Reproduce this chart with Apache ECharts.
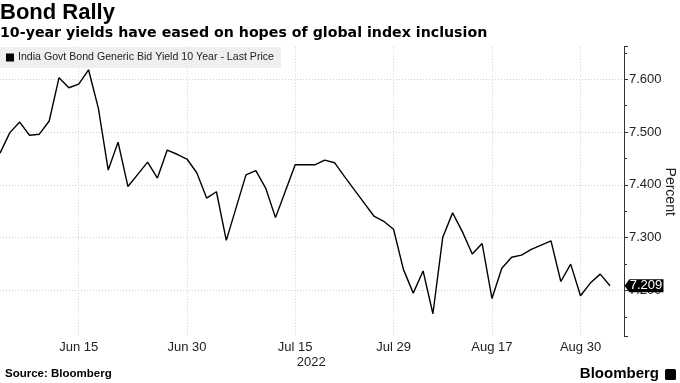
<!DOCTYPE html>
<html>
<head>
<meta charset="utf-8">
<script src="https://cdn.jsdelivr.net/npm/echarts@6/dist/echarts.min.js"></script>
<style>
html,body{margin:0;padding:0;background:#fff;}
#chart{width:680px;height:383px;}
</style>
</head>
<body>
<div id="chart"></div>
<script>
// Trading dates (Indian market holidays skipped)
const dates = [
  'Jun 3','Jun 6','Jun 7','Jun 8','Jun 9','Jun 10','Jun 13','Jun 14','Jun 15','Jun 16',
  'Jun 17','Jun 20','Jun 21','Jun 22','Jun 23','Jun 24','Jun 27','Jun 28','Jun 29','Jun 30',
  'Jul 1','Jul 4','Jul 5','Jul 6','Jul 7','Jul 8','Jul 11','Jul 12','Jul 13','Jul 14',
  'Jul 15','Jul 18','Jul 19','Jul 20','Jul 21','Jul 22','Jul 25','Jul 26','Jul 27','Jul 28',
  'Jul 29','Aug 1','Aug 2','Aug 3','Aug 4','Aug 5','Aug 8','Aug 10','Aug 11','Aug 12',
  'Aug 17','Aug 18','Aug 19','Aug 22','Aug 23','Aug 24','Aug 25','Aug 26','Aug 29','Aug 30',
  'Sep 1','Sep 2','Sep 5'
];
// India Govt Bond Generic Bid Yield 10 Year - Last Price (%)
const yields = [
  7.460,7.499,7.519,7.494,7.496,7.521,7.603,7.584,7.591,7.618,
  7.545,7.428,7.481,7.397,7.420,7.443,7.413,7.466,7.458,7.449,
  7.423,7.375,7.387,7.295,7.357,7.419,7.427,7.394,7.338,7.388,
  7.438,7.438,7.438,7.447,7.442,7.416,7.391,7.366,7.341,7.331,
  7.316,7.240,7.195,7.237,7.156,7.301,7.347,7.311,7.269,7.289,
  7.185,7.242,7.263,7.267,7.278,7.286,7.294,7.217,7.250,7.190,
  7.214,7.231,7.209
];
const xTickDates = ['Jun 15','Jun 30','Jul 15','Jul 29','Aug 17','Aug 30'];
const yearLabelAt = 'Jul 15';
const yearLabel = '2022';
const yRange = [7.1125, 7.6617];
const seriesName = 'India Govt Bond Generic Bid Yield 10 Year - Last Price';

const chart = echarts.init(document.getElementById('chart'), null, {renderer: 'canvas'});
const tickIdx = xTickDates.map(d => dates.indexOf(d));
const lastIdx = yields.length - 1;
const FONT = 'Liberation Sans';

chart.setOption({
  animation: false,
  backgroundColor: '#fff',
  title: [
    {text: 'Bond Rally', left: 0, top: 2, padding: 0,
     textStyle: {fontFamily: FONT, fontWeight: 'bold', fontSize: 22, color: '#000'}},
    {text: '10-year yields have eased on hopes of global index inclusion', left: 0, top: 26, padding: 0,
     textStyle: {fontFamily: 'DejaVu Sans', fontWeight: 'bold', fontSize: 14.2, color: '#000'}}
  ],
  legend: {
    left: 0, top: 47, padding: [5, 7, 5, 6],
    backgroundColor: '#efefef',
    icon: 'rect', itemWidth: 8, itemHeight: 8, itemGap: 4,
    textStyle: {fontFamily: FONT, fontSize: 10.6, color: '#222', padding: [0,0,0,-1]},
    data: [seriesName]
  },
  grid: {left: 0, right: 56, top: 46.7, bottom: 46.3, containLabel: false, outerBoundsMode: 'none'},
  xAxis: {
    type: 'value', min: 0, max: lastIdx + 1.42,
    axisLine: {show: false, onZero: false},
    axisTick: {show: false, customValues: tickIdx},
    axisLabel: {
      customValues: tickIdx, margin: 4,
      formatter: v => {
        const d = dates[Math.round(v)];
        return d === yearLabelAt ? '{a|' + d + '}\n{b|' + yearLabel + '}' : '{a|' + d + '}';
      },
      rich: {
        a: {fontFamily: FONT, fontSize: 13, color: '#222', lineHeight: 14},
        b: {fontFamily: FONT, fontSize: 13, color: '#222', lineHeight: 15, padding: [0,0,0,32]}
      }
    },
    splitLine: {show: true, lineStyle: {color: '#cfcfcf', type: [1, 2], width: 1}}
  },
  yAxis: {
    type: 'value', position: 'right', min: yRange[0], max: yRange[1],
    minInterval: 0.1, maxInterval: 0.1,
    name: 'Percent', nameLocation: 'middle', nameGap: 39, nameRotate: -90, nameMoveOverlap: false,
    nameTextStyle: {fontFamily: FONT, fontSize: 14, color: '#222'},
    axisLine: {show: true, onZero: false, lineStyle: {color: '#333', width: 1}},
    axisTick: {show: true, length: 4, lineStyle: {color: '#333'}},
    minorTick: {show: true, splitNumber: 2, length: 3, lineStyle: {color: '#333'}},
    axisLabel: {
      margin: 5, showMinLabel: false, showMaxLabel: false,
      fontFamily: FONT, fontSize: 13, color: '#222',
      formatter: v => v.toFixed(3)
    },
    splitLine: {show: true, showMinLine: false, showMaxLine: false,
      lineStyle: {color: '#cfcfcf', type: [1, 2], width: 1}}
  },
  series: [{
    name: seriesName,
    type: 'line',
    data: yields.map((v, i) => [i, v]),
    showSymbol: false, symbol: 'none',
    itemStyle: {color: '#000'},
    lineStyle: {color: '#000', width: 1.4},
    markPoint: {
      silent: true,
      symbol: 'path://M0,6.5 L5,0 L40,0 L40,13 L5,13 Z',
      symbolSize: [39, 13],
      symbolOffset: [34, 0],
      itemStyle: {color: '#000'},
      label: {show: true, position: 'inside', offset: [2, 0], color: '#fff',
        fontFamily: FONT, fontSize: 13, formatter: p => p.value.toFixed(3)},
      data: [{coord: [lastIdx, yields[lastIdx]], value: yields[lastIdx]}]
    }
  }],
  graphic: [
    {type: 'text', left: 5, top: 368,
     style: {text: 'Source: Bloomberg', fontFamily: FONT, fontWeight: 'bold', fontSize: 11.5, fill: '#000'}},
    {type: 'text', right: 21, top: 366,
     style: {text: 'Bloomberg', fontFamily: FONT, fontWeight: 'bold', fontSize: 15, fill: '#000'}},
    {type: 'rect', right: 4, top: 369, shape: {width: 11, height: 11, r: 1.5}, style: {fill: '#000'}}
  ]
});
</script>
</body>
</html>
